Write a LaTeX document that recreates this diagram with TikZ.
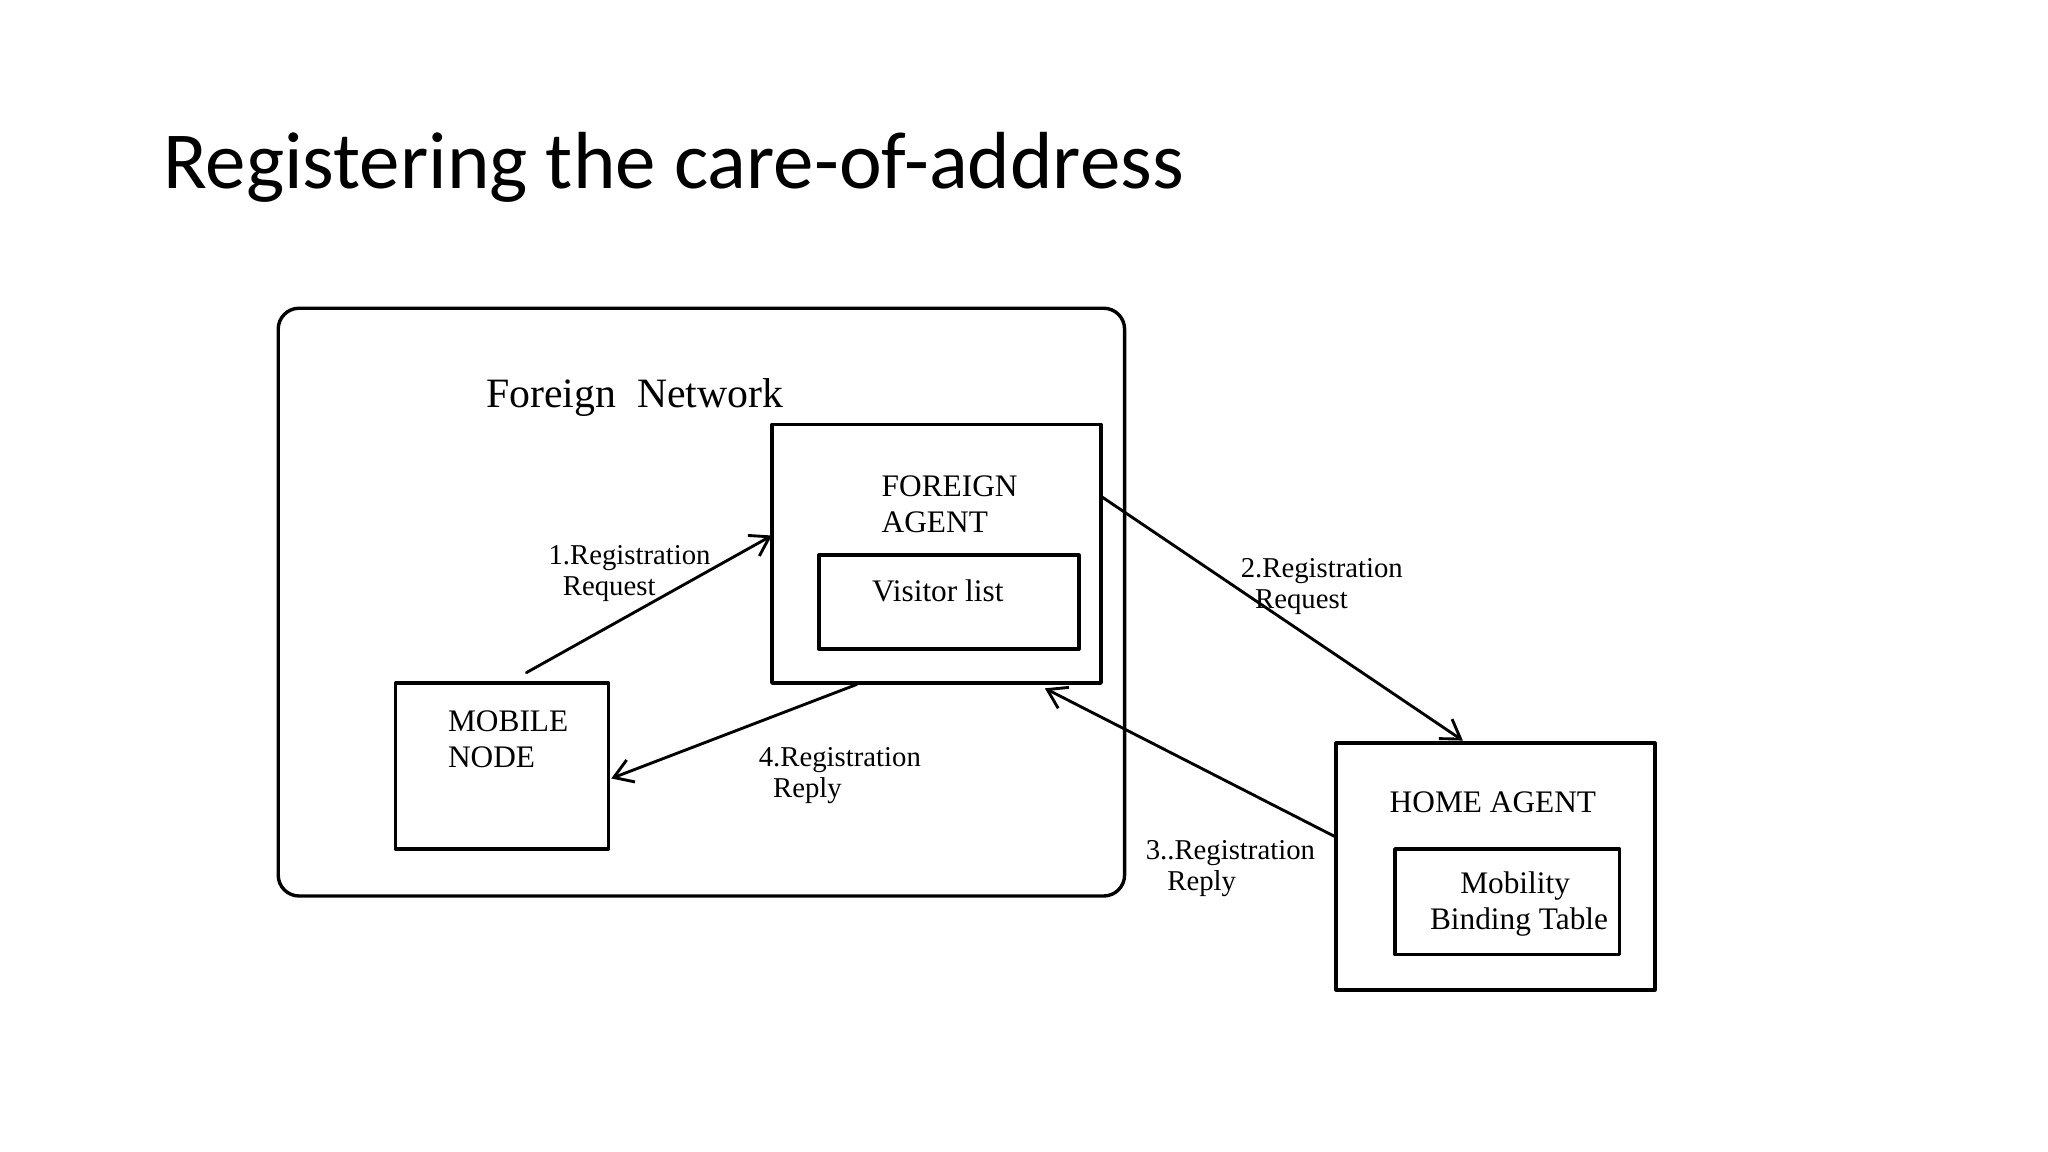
\documentclass[tikz,border=0pt]{standalone}
\usepackage{fontspec}
\setmainfont{Liberation Serif}
\newfontfamily\titlefont{Carlito}
\usetikzlibrary{arrows.meta}
\begin{document}
\begin{tikzpicture}[line cap=round,line join=round,x=0.5pt,y=-0.5pt,
  >={Straight Barb[length=7pt,width=9pt]},
  box/.style={draw,line width=1.3pt,inner sep=0pt},
  lbl/.style={font=\fontsize{11}{12}\selectfont,align=left}]
\useasboundingbox (0,0) rectangle (1568,882);
% title
\node[anchor=west,font=\titlefont\fontsize{31}{36}\selectfont] (title) at (118,128) {Registering the care-of-address};
% foreign network
\draw[line width=1.3pt,rounded corners=8pt] (213,236) rectangle (861,686);
\node[font=\fontsize{16}{18}\selectfont] (fn) at (486,304) {Foreign\ \ Network};
% boxes
\node[box,minimum width=126pt,minimum height=99pt] (fa) at (717,424) {};
\node[lbl,font=\fontsize{12}{14}\selectfont,anchor=north west] (fatext) at (668,357) {FOREIGN\\AGENT};
\node[box,minimum width=99.5pt,minimum height=36pt,font=\fontsize{12}{14}\selectfont] (vl) at (726.5,461) {};
\node[font=\fontsize{12}{14}\selectfont] (vltext) at (718,452) {Visitor list};
\node[box,minimum width=81.5pt,minimum height=63.5pt] (mn) at (384.5,586.5) {};
\node[lbl,font=\fontsize{12}{14}\selectfont,anchor=north west] (mntext) at (336,537) {MOBILE\\NODE};
\node[box,minimum width=122pt,minimum height=94.5pt] (ha) at (1145,663.5) {};
\node[font=\fontsize{12}{14}\selectfont] (hatext) at (1143,614) {HOME AGENT};
\node[box,minimum width=86pt,minimum height=40.5pt] (mb) at (1154,690.5) {};
\node[lbl,font=\fontsize{12}{14}\selectfont,align=center] (mbtext) at (1160,692) {Mobility\\\ Binding Table};
% arrow ends
\coordinate (a1) at (403,515);
\coordinate (b1) at (591,410);
\coordinate (a2) at (843,380);
\coordinate (b2) at (1120,567);
\coordinate (a3) at (1023,641);
\coordinate (b3) at (800,527);
\coordinate (a4) at (656,524);
\coordinate (b4) at (468,596);
\draw[->,line width=1.1pt] (a1) -- (b1);
\draw[->,line width=1.1pt] (a2) -- (b2);
\draw[->,line width=1.1pt] (a3) -- (b3);
\draw[->,line width=1.1pt] (a4) -- (b4);
\node[lbl] (l1) at (482,439) {1.Registration\\\ \ Request};
\node[lbl] (l2) at (1012,449) {2.Registration\\\ \ Request};
\node[lbl] (l3) at (942,665) {3..Registration\\\ \ \ Reply};
\node[lbl] (l4) at (643,594) {4.Registration\\\ \ Reply};
\end{tikzpicture}
\end{document}
